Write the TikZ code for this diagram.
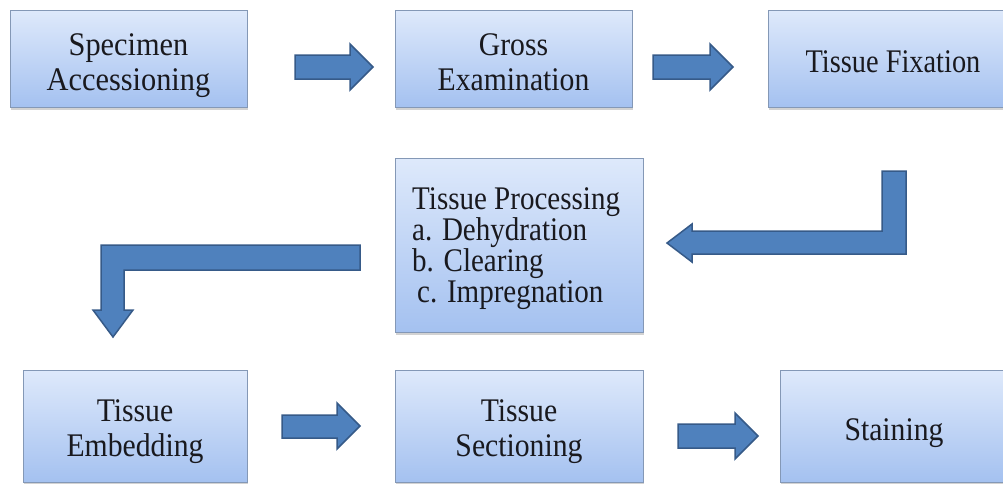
\documentclass[tikz,border=0pt]{standalone}
\usepackage{fontspec}
\setmainfont{Liberation Serif}
\newfontfamily\tallA{Liberation Serif}[FakeStretch=0.92]
\newfontfamily\tallB{Liberation Serif}[FakeStretch=0.90]
\newfontfamily\tallC{Liberation Serif}[FakeStretch=0.88]
\newfontfamily\tallD{Liberation Serif}[FakeStretch=0.86]
\usetikzlibrary{shadows}
\definecolor{boxtop}{RGB}{222,233,251}
\definecolor{boxbot}{RGB}{164,193,240}
\definecolor{boxline}{RGB}{132,152,182}
\definecolor{arrfill}{RGB}{79,129,189}
\definecolor{arrline}{RGB}{54,90,136}
\definecolor{txt}{RGB}{25,25,30}
\begin{document}
\begin{tikzpicture}[x=1pt,y=-1pt,
  box/.style={draw=boxline, line width=0.8pt, top color=boxtop, bottom color=boxbot,
    anchor=north west, inner sep=0pt,
    drop shadow={shadow xshift=1pt,shadow yshift=-3pt,opacity=0.25,fill=black!70}},
  line/.style={text=txt, inner sep=0pt, anchor=base, font=\tallB\fontsize{33}{35}\selectfont},
  lineA/.style={line, font=\tallA\fontsize{33}{35}\selectfont},
  lineC/.style={line, anchor=base west, font=\tallC\fontsize{33}{35}\selectfont},
  lineD/.style={line, font=\tallD\fontsize{33}{35}\selectfont},
  blockarr/.style={fill=arrfill, draw=arrline, line width=1.5pt, line join=miter}]
\useasboundingbox[fill=white] (0,0) rectangle (1003,483);
% boxes
\node[box, minimum width=237pt, minimum height=97pt] (acc) at (10,10) {};
\node[box, minimum width=237pt, minimum height=97pt] (gross) at (395,10) {};
\node[box, minimum width=250pt, minimum height=97pt] (fix) at (768,10) {};
\node[box, minimum width=248pt, minimum height=174pt] (proc) at (395,158) {};
\node[box, minimum width=224pt, minimum height=112pt] (emb) at (23,370) {};
\node[box, minimum width=248pt, minimum height=112pt] (sec) at (395,370) {};
\node[box, minimum width=228pt, minimum height=112pt] (stain) at (780,370) {};
% texts
\node[lineA] (acc1) at (128.5,55) {Specimen};
\node[lineA] (acc2) at (128.5,90) {Accessioning};
\node[line] (gross1) at (513.5,55) {Gross};
\node[line] (gross2) at (513.5,90) {Examination};
\node[lineD] (fix1) at (893,72) {Tissue Fixation};
\node[lineC] (proc1) at (412,209) {Tissue Processing};
\node[lineC] (proc2) at (412,240) {a. Dehydration};
\node[lineC] (proc3) at (412,271) {b. Clearing};
\node[lineC] (proc4) at (417,302) {c. Impregnation};
\node[line] (emb1) at (135,421) {Tissue};
\node[line] (emb2) at (135,456) {Embedding};
\node[line] (sec1) at (519,421) {Tissue};
\node[line] (sec2) at (519,456) {Sectioning};
\node[line] (stain1) at (894,440) {Staining};
% straight block arrows
\draw[blockarr] (295,55) -- (350,55) -- (350,44) -- (373,67) -- (350,90) -- (350,79) -- (295,79) -- cycle;
\draw[blockarr] (653,55) -- (710,55) -- (710,44) -- (733,67) -- (710,90) -- (710,79) -- (653,79) -- cycle;
\draw[blockarr] (282,415) -- (337,415) -- (337,403) -- (360,426) -- (337,449) -- (337,438) -- (282,438) -- cycle;
\draw[blockarr] (678,424) -- (735,424) -- (735,413) -- (758,436) -- (735,459) -- (735,448) -- (678,448) -- cycle;
% bent block arrows
\draw[blockarr] (906,171) -- (906,254) -- (692,254) -- (692,262) -- (667,243) -- (692,224) -- (692,231) -- (882,231) -- (882,171) -- cycle;
\draw[blockarr] (360,245) -- (360,270) -- (124,270) -- (124,310) -- (133,310) -- (113,337) -- (93,310) -- (101,310) -- (101,245) -- cycle;
\end{tikzpicture}
\end{document}
